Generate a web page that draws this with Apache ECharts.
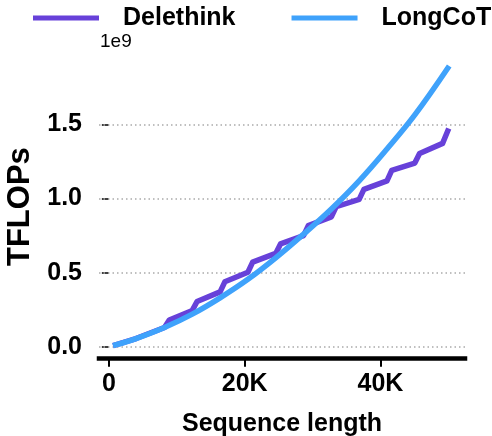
<!DOCTYPE html>
<html>
<head>
<meta charset="utf-8">
<title>TFLOPs vs sequence length</title>
<script src="https://cdn.jsdelivr.net/npm/echarts@6/dist/echarts.min.js"></script>
<style>
  html, body { margin: 0; padding: 0; background: #ffffff; }
  #chart { width: 492px; height: 436px; }
</style>
</head>
<body>
<div id="chart"></div>
<script>
// Sequence lengths (tokens) and compute cost in units of 1e9 TFLOPs
const longcotLen = [1000, 4000, 8192, 12288, 16384, 20480, 24576, 28672, 32768, 36864, 40960, 45056, 49900];
const longcotFlops = [0.012, 0.055, 0.13, 0.22, 0.33, 0.455, 0.60, 0.76, 0.93, 1.12, 1.335, 1.565, 1.88];

const delethinkLen = [1000, 4000, 8192, 8900, 12288, 12990, 16384, 17080, 20480, 21180, 24576, 25280,
                      28672, 29370, 32768, 33470, 36864, 37560, 40960, 41660, 45056, 45760, 49152, 49900];
const delethinkFlops = [0.012, 0.055, 0.13, 0.18, 0.245, 0.305, 0.37, 0.438, 0.503, 0.571, 0.63, 0.694,
                        0.75, 0.818, 0.877, 0.945, 0.995, 1.062, 1.12, 1.19, 1.24, 1.305, 1.373, 1.456];

const xTicks = [0, 20000, 40000];
const yTicks = [0, 0.5, 1.0, 1.5];

const FONT = "'Liberation Sans', 'DejaVu Sans', sans-serif";
const PURPLE = '#6741d9';
const BLUE = '#3fa2fb';

const pairs = (xs, ys) => xs.map((x, i) => [x, ys[i]]);

const chart = echarts.init(document.getElementById('chart'), null, { renderer: 'canvas' });
chart.setOption({
  animation: false,
  backgroundColor: '#ffffff',
  textStyle: { fontFamily: FONT },
  grid: { left: 99, right: 27, top: 54.5, bottom: 77.3, containLabel: false, outerBoundsMode: 'none' },
  legend: {
    left: 33,
    top: 3,
    width: 470,
    padding: 0,
    orient: 'horizontal',
    icon: 'rect',
    itemWidth: 66,
    itemHeight: 5,
    itemGap: 56,
    textStyle: { fontFamily: FONT, fontSize: 25, fontWeight: 'bold', color: '#000', padding: [0, 0, 0, 19], lineHeight: 30 },
    data: ['Delethink', 'LongCoT']
  },
  graphic: [{
    type: 'text',
    left: 100,
    top: 32,
    style: { text: '1e9', fontFamily: FONT, fontSize: 19, fill: '#000' }
  }],
  xAxis: {
    type: 'value',
    min: -1450,
    max: 52450,
    name: 'Sequence length',
    nameLocation: 'middle',
    nameGap: 53,
    nameTextStyle: { fontFamily: FONT, fontSize: 25, fontWeight: 'bold', color: '#000' },
    axisLine: { show: true, onZero: false, lineStyle: { color: '#000', width: 4.5, cap: 'square' } },
    axisTick: { show: true, customValues: xTicks, length: 8, lineStyle: { color: '#000', width: 2 } },
    axisLabel: {
      customValues: xTicks,
      margin: 13,
      fontFamily: FONT, fontSize: 25, fontWeight: 'bold', color: '#000',
      formatter: v => v === 0 ? '0' : (v / 1000) + 'K'
    },
    splitLine: { show: false }
  },
  yAxis: {
    type: 'value',
    min: -0.081,
    max: 1.973,
    name: 'TFLOPs',
    nameLocation: 'middle',
    nameRotate: 90,
    nameGap: 60,
    nameTextStyle: { fontFamily: FONT, fontSize: 31, fontWeight: 'bold', color: '#000' },
    axisLine: { show: false },
    axisTick: { show: true, customValues: yTicks, length: 7, lineStyle: { color: '#000', width: 1.5 } },
    axisLabel: {
      customValues: yTicks,
      margin: 17,
      fontFamily: FONT, fontSize: 25, fontWeight: 'bold', color: '#000',
      formatter: v => v.toFixed(1)
    },
    splitLine: { show: false }
  },
  series: [
    {
      name: 'Delethink',
      type: 'line',
      data: pairs(delethinkLen, delethinkFlops),
      showSymbol: false,
      color: PURPLE,
      lineStyle: { color: PURPLE, width: 5.5, cap: 'square', join: 'round' },
      z: 3,
      markLine: {
        silent: true,
        symbol: 'none',
        z: 1,
        label: { show: false },
        lineStyle: { color: '#aaaaaa', width: 1.5, type: [1.5, 3] },
        data: yTicks.map(v => ({ yAxis: v }))
      }
    },
    {
      name: 'LongCoT',
      type: 'line',
      data: pairs(longcotLen, longcotFlops),
      smooth: 0.4,
      showSymbol: false,
      color: BLUE,
      lineStyle: { color: BLUE, width: 5.5, cap: 'square', join: 'round' },
      z: 4
    }
  ]
});
</script>
</body>
</html>
